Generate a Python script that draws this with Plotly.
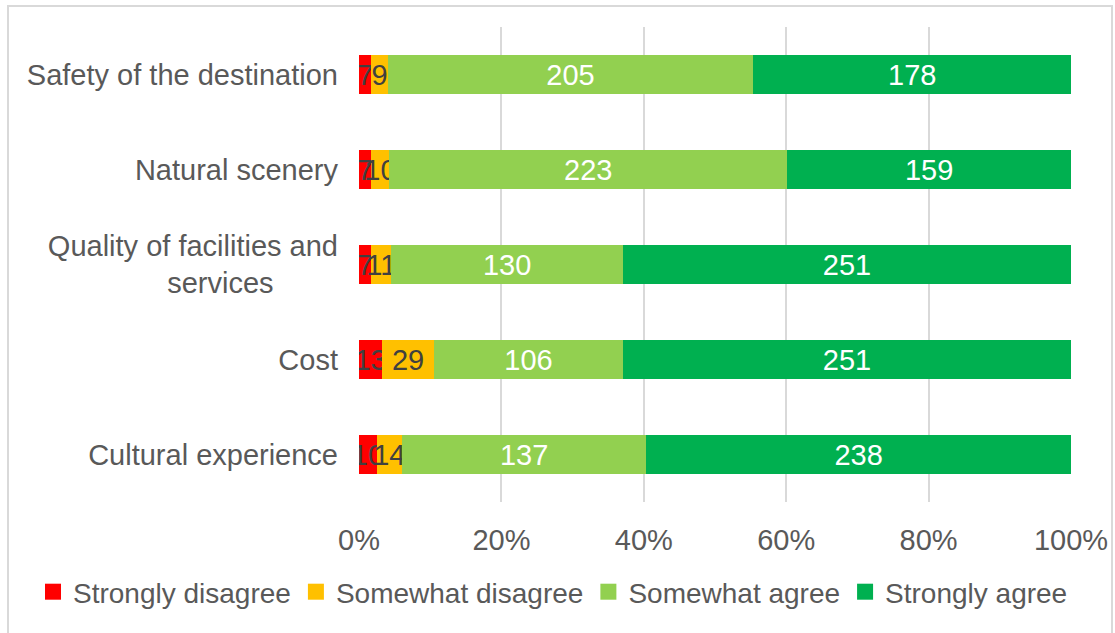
import plotly.graph_objects as go

# Survey factors, listed top to bottom
factors = [
    "Safety of the destination",
    "Natural scenery",
    "Quality of facilities and services",
    "Cost",
    "Cultural experience",
]
factor_labels = [
    "Safety of the destination",
    "Natural scenery",
    "Quality of facilities and<br>services" + "\u00a0" * 8,
    "Cost",
    "Cultural experience",
]

strongly_disagree = [7, 7, 7, 13, 10]
somewhat_disagree = [9, 10, 11, 29, 14]
somewhat_agree = [205, 223, 130, 106, 137]
strongly_agree = [178, 159, 251, 251, 238]

series = [
    ("Strongly disagree", strongly_disagree, "#FF0000", "#404040"),
    ("Somewhat disagree", somewhat_disagree, "#FFC000", "#404040"),
    ("Somewhat agree", somewhat_agree, "#92D050", "#FFFFFF"),
    ("Strongly agree", strongly_agree, "#00B050", "#FFFFFF"),
]

x_ticks = [0, 20, 40, 60, 80, 100]

FONT = "Liberation Sans, Arial, sans-serif"
GREY = "#595959"
SIZE = 29

L, R, T, B = 359, 44, 27, 131
W, H = 1115, 633
pw, ph = W - L - R, H - T - B

fig = go.Figure()
for name, vals, color, txtcolor in series:
    fig.add_trace(go.Bar(
        y=factors, x=vals, orientation="h", name=name,
        marker=dict(color=color, line=dict(width=0)),
        text=[str(v) for v in vals],
        textposition="inside", insidetextanchor="middle", textangle=0,
        textfont=dict(family=FONT, size=SIZE, color=txtcolor),
        showlegend=False,
    ))
    # square legend swatch
    fig.add_trace(go.Scatter(
        x=[None], y=[None], mode="markers", name=name,
        marker=dict(symbol="square", size=17, color=color),
        showlegend=True,
    ))

fig.update_layout(
    barmode="stack",
    barnorm="percent",
    bargap=0.58,
    width=W, height=H,
    margin=dict(l=L, r=R, t=T, b=B, pad=0, autoexpand=False),
    paper_bgcolor="white", plot_bgcolor="white",
    font=dict(family=FONT, size=SIZE, color=GREY),
    uniformtext=dict(minsize=SIZE, mode="show"),
    legend=dict(
        orientation="h", xref="paper", yref="paper",
        x=(33 - L) / pw, xanchor="left",
        y=(H - B - 592) / ph, yanchor="middle",
        bgcolor="rgba(0,0,0,0)",
        font=dict(family=FONT, size=28, color=GREY),
        itemwidth=30, tracegroupgap=0, traceorder="normal",
    ),
    xaxis=dict(
        range=[0, 100], tickvals=x_ticks,
        ticktext=[f"{t}%" for t in x_ticks],
        showgrid=True, gridcolor="#D9D9D9", gridwidth=1.5,
        zeroline=False, showline=False, ticks="",
        ticklabelstandoff=18,
        tickfont=dict(family=FONT, size=SIZE, color=GREY),
    ),
    yaxis=dict(
        categoryorder="array", categoryarray=factors,
        autorange="reversed",
        tickvals=factors, ticktext=factor_labels,
        showgrid=False, zeroline=False, showline=False, ticks="",
        ticklabelstandoff=20,
        tickfont=dict(family=FONT, size=SIZE, color=GREY),
    ),
)

# chart frame
fig.add_shape(
    type="rect", xref="paper", yref="paper",
    x0=(8 - L) / pw, x1=(1112 - L) / pw,
    y0=(H - B - 640) / ph, y1=1 + (T - 6) / ph,
    line=dict(color="#D9D9D9", width=2), fillcolor="rgba(0,0,0,0)",
    layer="below",
)

fig.write_html("out.html")
